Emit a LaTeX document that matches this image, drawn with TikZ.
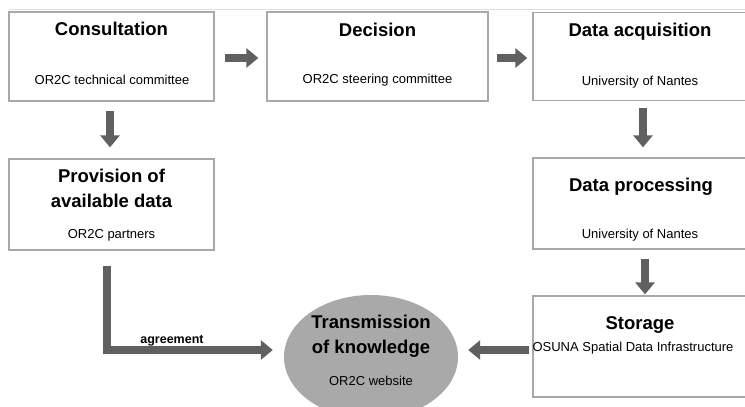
\documentclass[tikz,border=0pt]{standalone}
\usepackage{fontspec}
\setmainfont{Liberation Sans}
\usetikzlibrary{arrows.meta,shapes.geometric}
\definecolor{arrgray}{HTML}{606060}
\definecolor{boxgray}{HTML}{A8A8A8}
\definecolor{ellgray}{HTML}{A9A9A9}
\tikzset{
  box/.style={draw=boxgray,line width=1.3pt,fill=white,rectangle,inner sep=0pt},
  ttl/.style={font=\fontsize{18.5}{20}\selectfont\bfseries,inner sep=0pt,text height=0.72em,text depth=0pt,anchor=center},
  sub/.style={font=\fontsize{13}{15}\selectfont,inner sep=0pt,text height=0.72em,text depth=0pt,anchor=center},
  arr/.style={draw=arrgray,line width=7.5pt,line join=miter,-{Triangle[width=19pt,length=12pt]}},
}
\begin{document}
\begin{tikzpicture}[x=1pt,y=-1pt]
\useasboundingbox (0,0) rectangle (745,407);
\fill[white] (0,0) rectangle (745,407);
\draw[gray!25,line width=0.8pt] (9,9) -- (745,9);
% boxes
\node[box,minimum width=205pt,minimum height=89pt] (cons) at (111.5,56.5) {};
\node[box,minimum width=221pt,minimum height=89pt] (dec) at (377.5,56.5) {};
\node[box,minimum width=215pt,minimum height=88pt] (acq) at (640.5,56.5) {};
\node[box,minimum width=205pt,minimum height=91pt] (prov) at (111.5,204.5) {};
\node[box,minimum width=215pt,minimum height=91pt] (proc) at (640.5,203.5) {};
\node[box,minimum width=215pt,minimum height=101pt] (stor) at (640.5,346.5) {};
\node[ellipse,fill=ellgray,minimum width=174pt,minimum height=124pt,inner sep=0pt] (ell) at (371,357) {};
% texts
\node[ttl] (t1) at (111.5,32) {Consultation};
\node[sub] (s1) at (112,81) {OR2C technical committee};
\node[ttl] (t2) at (377.5,32.5) {Decision};
\node[sub] (s2) at (377.5,80) {OR2C steering committee};
\node[ttl] (t3) at (640,33) {Data acquisition};
\node[sub] (s3) at (640,81.5) {University of Nantes};
\node[ttl] (t4a) at (111.5,178.5) {Provision of};
\node[ttl] (t4b) at (111.5,204) {available data};
\node[sub] (s4) at (111.5,235) {OR2C partners};
\node[ttl] (t5) at (641,187.5) {Data processing};
\node[sub] (s5) at (640,235) {University of Nantes};
\node[ttl] (t6) at (640,326) {Storage};
\node[sub] (s6) at (633,348) {OSUNA Spatial Data Infrastructure};
\node[ttl] (t7a) at (371,324.5) {Transmission};
\node[ttl] (t7b) at (371,350) {of knowledge};
\node[sub] (s7) at (371,382) {OR2C website};
% connectors
\draw[arr] ([xshift=10pt,yshift=-1.5pt]cons.east) -- ([xshift=-8pt,yshift=-1.5pt]dec.west);
\draw[arr] ([xshift=8pt,yshift=-1.5pt]dec.east) -- ([xshift=-5pt,yshift=-1.5pt]acq.west);
\draw[arr] ([xshift=-1.5pt,yshift=-9pt]cons.south) -- ([xshift=-1.5pt,yshift=11pt]prov.north);
\draw[arr] ([xshift=2.5pt,yshift=-7pt]acq.south) -- ([xshift=2.5pt,yshift=10pt]proc.north);
\draw[arr] ([xshift=4.5pt,yshift=-9pt]proc.south) -- ([xshift=4.5pt,yshift=1pt]stor.north);
\coordinate (bend) at (107,350);
\draw[arr] (prov.south -| bend) ++(0,15) -- (bend) -- ([xshift=-11pt,yshift=7pt]ell.west);
\draw[arr] ([xshift=-3pt,yshift=-3.5pt]stor.west) -- ([xshift=10pt,yshift=7pt]ell.east);
\node[font=\fontsize{12.5}{14}\selectfont\bfseries,anchor=base,inner sep=0pt] (agr) at (172,343) {agreement};
\end{tikzpicture}
\end{document}
